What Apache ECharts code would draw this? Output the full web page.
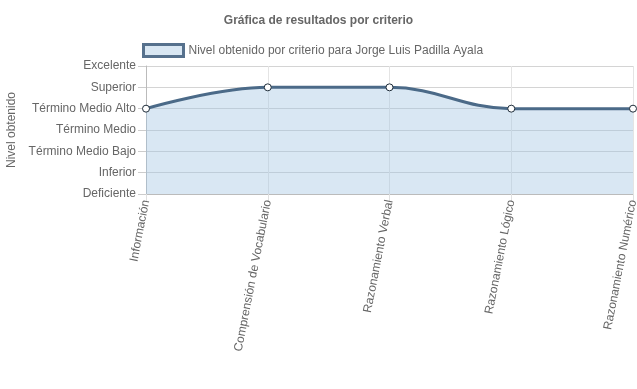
<!DOCTYPE html>
<html>
<head>
<meta charset="utf-8">
<script src="https://cdn.jsdelivr.net/npm/echarts@6/dist/echarts.min.js"></script>
<style>
  html, body { margin: 0; padding: 0; background: #fff; }
  #chart { width: 637px; height: 389px; }
</style>
</head>
<body>
<div id="chart"></div>
<script>
// niveles del eje Y (0 = Deficiente ... 6 = Excelente)
var niveles = ['Deficiente', 'Inferior', 'Término Medio Bajo', 'Término Medio', 'Término Medio Alto', 'Superior', 'Excelente']
var criterios = ['Información', 'Comprensión de Vocabulario', 'Razonamiento Verbal', 'Razonamiento Lógico', 'Razonamiento Numérico']
var valores = [4, 5, 5, 4, 4]

var font = 'Liberation Sans'
var myChart = echarts.init(document.getElementById('chart'))
var option = {
  animation: false,
  textStyle: { fontFamily: font },
  title: {
    text: 'Gráfica de resultados por criterio',
    left: 'center',
    top: 10,
    textStyle: { fontFamily: font, fontSize: 12, fontWeight: 'bold', color: '#666' }
  },
  legend: {
    top: 38,
    left: 137,
    icon: 'rect',
    itemWidth: 40,
    itemHeight: 12,
    itemStyle: { color: '#d9e7f3', borderColor: '#56718d', borderWidth: 3 },
    textStyle: { fontFamily: font, fontSize: 12, color: '#666' },
    data: ['Nivel obtenido por criterio para Jorge Luis Padilla Ayala']
  },
  grid: { left: 146, right: 4, top: 66, bottom: 195, outerBoundsMode: 'none' },
  xAxis: {
    type: 'category',
    boundaryGap: false,
    data: criterios,
    axisLine: { lineStyle: { color: '#bbb' } },
    axisTick: { show: true, length: 7, lineStyle: { color: '#e0e0e0' } },
    axisLabel: { rotate: 79, margin: 6, fontFamily: font, fontSize: 12, color: '#666' },
    splitLine: { show: true, lineStyle: { color: '#e4e4e4' } }
  },
  yAxis: {
    type: 'value',
    min: 0,
    max: 6,
    interval: 1,
    name: 'Nivel obtenido',
    nameLocation: 'middle',
    nameGap: 128,
    nameTextStyle: { fontFamily: font, fontSize: 12, color: '#666' },
    axisLine: { show: true, lineStyle: { color: '#bbb' } },
    axisTick: { show: true, length: 8, lineStyle: { color: '#ccc' } },
    axisLabel: {
      margin: 10, fontFamily: font, fontSize: 12, color: '#666',
      formatter: function (v) { return niveles[v] }
    },
    splitLine: { show: true, lineStyle: { color: '#d4d4d4' } }
  },
  series: [
    {
      name: 'Nivel obtenido por criterio para Jorge Luis Padilla Ayala',
      type: 'line',
      data: valores,
      smooth: 0.4,
      symbol: 'circle',
      symbolSize: 7,
      itemStyle: { color: '#fff', borderColor: '#1f2d3a', borderWidth: 1 },
      lineStyle: { color: '#4b6a88', width: 3 },
      areaStyle: { color: 'rgba(160,195,225,0.4)', opacity: 1 }
    }
  ]
}
myChart.setOption(option)
</script>
</body>
</html>
